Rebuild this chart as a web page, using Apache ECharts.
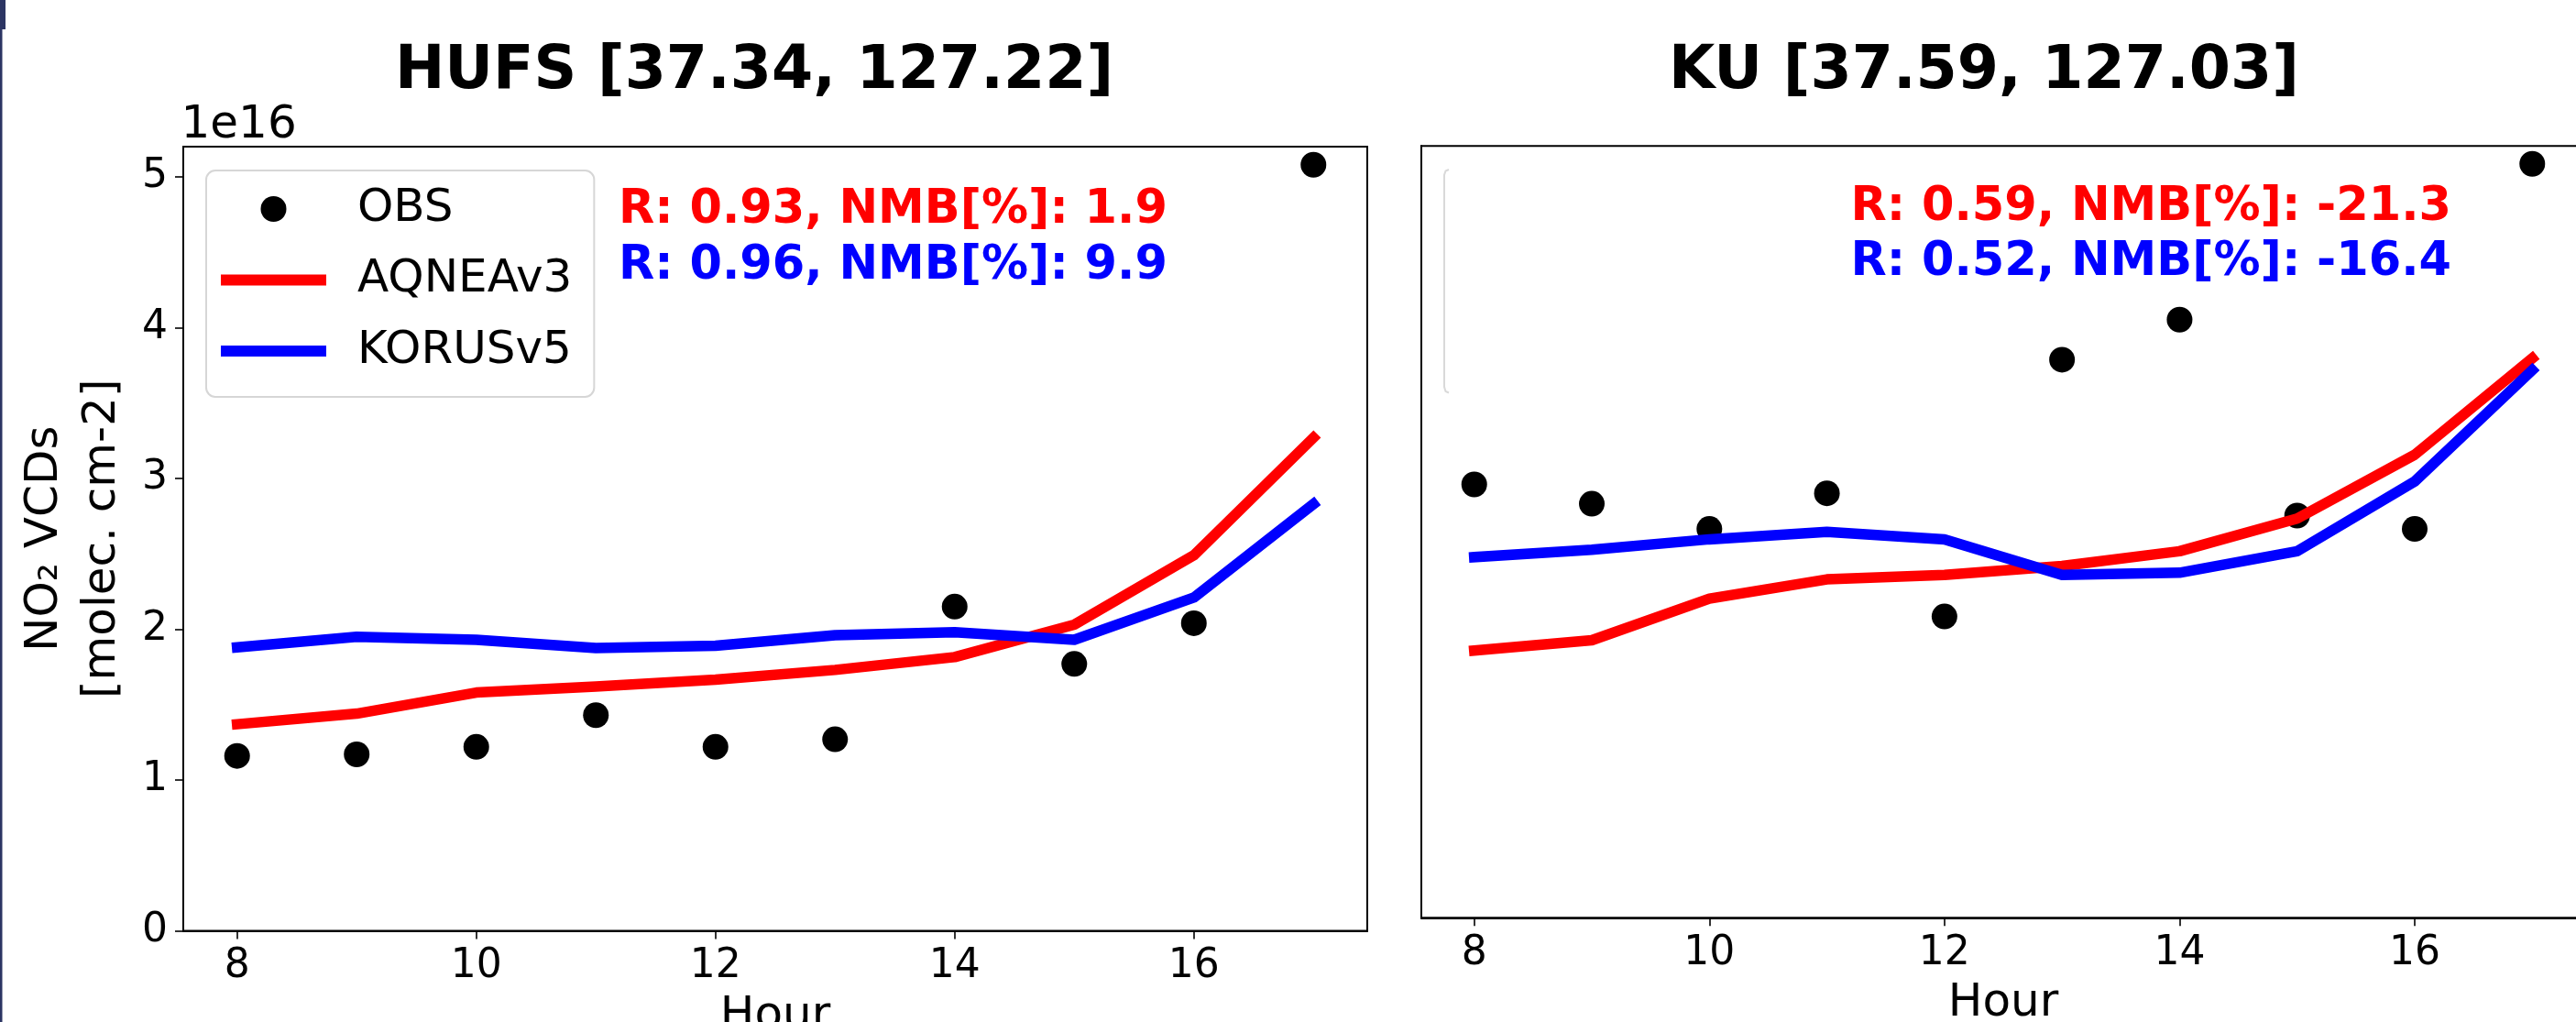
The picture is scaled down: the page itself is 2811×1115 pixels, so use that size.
<!DOCTYPE html>
<html>
<head>
<meta charset="utf-8">
<title>NO2 VCDs</title>
<script src="https://cdn.jsdelivr.net/npm/echarts@6/dist/echarts.min.js"></script>
<style>
  html, body { margin: 0; padding: 0; background: #ffffff; }
  #chart { width: 2811px; height: 1115px; }
</style>
</head>
<body>
<div id="chart"></div>
<script>
// ---------------- data (NO2 VCDs, units of 1e16 molec. cm-2) ----------------
const hours = [8, 9, 10, 11, 12, 13, 14, 15, 16, 17];

const hufsObs     = [1.16, 1.17, 1.22, 1.43, 1.22, 1.27, 2.15, 1.77, 2.04, 5.08];
const hufsAqnea   = [1.37, 1.44, 1.58, 1.62, 1.665, 1.73, 1.815, 2.03, 2.49, 3.27];
const hufsKorus   = [1.88, 1.95, 1.93, 1.875, 1.89, 1.96, 1.98, 1.93, 2.21, 2.83];

const kuObs       = [2.92, 2.79, 2.62, 2.86, 2.03, 3.76, 4.03, 2.71, 2.62, 5.08];
const kuAqnea     = [1.80, 1.87, 2.15, 2.28, 2.31, 2.37, 2.47, 2.69, 3.12, 3.77];
const kuKorus     = [2.43, 2.48, 2.55, 2.60, 2.55, 2.31, 2.325, 2.47, 2.94, 3.69];

const xTickValues = [8, 10, 12, 14, 16];
const yTickValues = [0, 1, 2, 3, 4, 5];

const panelTitles = ['HUFS [37.34, 127.22]', 'KU [37.59, 127.03]'];
const statsAqnea  = ['R: 0.93, NMB[%]: 1.9', 'R: 0.59, NMB[%]: -21.3'];
const statsKorus  = ['R: 0.96, NMB[%]: 9.9', 'R: 0.52, NMB[%]: -16.4'];
const seriesNames = ['OBS', 'AQNEAv3', 'KORUSv5'];
const yLabel = 'NO\u2082 VCDs\n[molec. cm-2]';
const xLabel = 'Hour';
const offsetLabel = '1e16';

// ---------------- styling ----------------
const FONT = 'DejaVu Sans';
const RED = '#ff0000', BLUE = '#0000ff', BLACK = '#000000';

function pairs(vals) { return hours.map((h, i) => [h, vals[i]]); }

function xAxisFor(gi) {
  return {
    type: 'value', gridIndex: gi, min: 7.55, max: 17.45,
    splitLine: { show: false },
    axisLine: { show: true, onZero: false, lineStyle: { color: BLACK, width: 2 } },
    axisTick: { show: true, length: 9, customValues: xTickValues, lineStyle: { color: BLACK, width: 1.6 } },
    axisLabel: { show: true, customValues: xTickValues, fontSize: 44, lineHeight: 44, margin: 17,
                 color: BLACK, fontFamily: FONT },
    name: xLabel, nameLocation: 'middle', nameGap: 69, nameMoveOverlap: false,
    nameTextStyle: { fontSize: 50, lineHeight: 50, color: BLACK, fontFamily: FONT }
  };
}

const lineCommon = (color) => ({
  type: 'line', showSymbol: false, symbol: 'none', animation: false,
  lineStyle: { color: color, width: 11.5, cap: 'square', join: 'round', opacity: 1 },
  itemStyle: { color: color, opacity: 1 }
});

const obsStyle = { color: BLACK, opacity: 1 };
const barIcon = 'path://M0,0H115V12H0Z';

const option = {
  animation: false,
  backgroundColor: '#ffffff',
  title: [
    { text: panelTitles[0], left: 823, top: 46.5, textAlign: 'center', padding: 0,
      textStyle: { fontSize: 65, lineHeight: 65, fontWeight: 'bold', color: BLACK, fontFamily: FONT } },
    { text: panelTitles[1], left: 2165, top: 46.5, textAlign: 'center', padding: 0,
      textStyle: { fontSize: 65, lineHeight: 65, fontWeight: 'bold', color: BLACK, fontFamily: FONT } }
  ],
  grid: [
    { left: 200, top: 160, width: 1292, height: 855.5, containLabel: false, outerBoundsMode: 'none',
      show: true, borderColor: BLACK, borderWidth: 2, backgroundColor: 'transparent' },
    { left: 1551, top: 159.3, width: 1270, height: 842, containLabel: false, outerBoundsMode: 'none',
      show: true, borderColor: BLACK, borderWidth: 2, backgroundColor: 'transparent' }
  ],
  xAxis: [xAxisFor(0), xAxisFor(1)],
  yAxis: [
    { type: 'value', gridIndex: 0, min: 0, max: 5.2,
      splitLine: { show: false },
      axisLine: { show: true, onZero: false, lineStyle: { color: BLACK, width: 2 } },
      axisTick: { show: true, length: 9, customValues: yTickValues, lineStyle: { color: BLACK, width: 1.6 } },
      axisLabel: { show: true, customValues: yTickValues, fontSize: 44, lineHeight: 44, margin: 17,
                   color: BLACK, fontFamily: FONT },
      name: yLabel, nameLocation: 'middle', nameRotate: 90, nameGap: 56.5, nameMoveOverlap: false,
      nameTextStyle: { fontSize: 50, lineHeight: 63, color: BLACK, fontFamily: FONT, align: 'center' } },
    { type: 'value', gridIndex: 1, min: 0, max: 5.2,
      splitLine: { show: false },
      axisLine: { show: true, onZero: false, lineStyle: { color: BLACK, width: 2 } },
      axisTick: { show: false },
      axisLabel: { show: false } }
  ],
  legend: {
    orient: 'vertical', left: 225, top: 186,
    padding: [17, 24, 25, 16],
    itemGap: 27.5, itemWidth: 115, itemHeight: 28,
    backgroundColor: 'rgba(255,255,255,0.8)', borderColor: '#d6d6d6', borderWidth: 2, borderRadius: 10,
    selectedMode: false,
    itemStyle: { opacity: 1 },
    textStyle: { fontSize: 50, lineHeight: 50, color: BLACK, fontFamily: FONT, padding: [0, 0, 0, 29] },
    data: [
      { name: seriesNames[0], icon: 'circle', itemStyle: { color: BLACK, opacity: 1 } },
      { name: seriesNames[1], icon: barIcon, itemStyle: { color: RED, opacity: 1 } },
      { name: seriesNames[2], icon: barIcon, itemStyle: { color: BLUE, opacity: 1 } }
    ]
  },
  series: [
    { type: 'scatter', name: seriesNames[0], xAxisIndex: 0, yAxisIndex: 0, data: pairs(hufsObs),
      symbol: 'circle', symbolSize: 28, itemStyle: obsStyle },
    Object.assign(lineCommon(RED),  { name: seriesNames[1], xAxisIndex: 0, yAxisIndex: 0, data: pairs(hufsAqnea) }),
    Object.assign(lineCommon(BLUE), { name: seriesNames[2], xAxisIndex: 0, yAxisIndex: 0, data: pairs(hufsKorus) }),
    { type: 'scatter', name: seriesNames[0], xAxisIndex: 1, yAxisIndex: 1, data: pairs(kuObs),
      symbol: 'circle', symbolSize: 28, itemStyle: obsStyle },
    Object.assign(lineCommon(RED),  { name: seriesNames[1], xAxisIndex: 1, yAxisIndex: 1, data: pairs(kuAqnea) }),
    Object.assign(lineCommon(BLUE), { name: seriesNames[2], xAxisIndex: 1, yAxisIndex: 1, data: pairs(kuKorus) })
  ],
  graphic: [
    // screenshot edge strip
    { type: 'rect', shape: { x: 0, y: 0, width: 6, height: 32 }, style: { fill: '#2c3563' }, silent: true },
    { type: 'rect', shape: { x: 0, y: 32, width: 2.5, height: 1083 }, style: { fill: '#2c3563' }, silent: true },
    // offset text
    { type: 'text', x: 197.5, y: 137, silent: true,
      style: { text: offsetLabel, fill: BLACK, font: '50px "DejaVu Sans"', align: 'left', verticalAlign: 'middle' } },
    // stats, left panel
    { type: 'text', x: 675, y: 230, silent: true, z: 10,
      style: { text: statsAqnea[0], fill: RED, font: 'bold 51px "DejaVu Sans"', align: 'left', verticalAlign: 'middle' } },
    { type: 'text', x: 675, y: 290.5, silent: true, z: 10,
      style: { text: statsKorus[0], fill: BLUE, font: 'bold 51px "DejaVu Sans"', align: 'left', verticalAlign: 'middle' } },
    // stats, right panel
    { type: 'text', x: 2019.5, y: 226.5, silent: true, z: 10,
      style: { text: statsAqnea[1], fill: RED, font: 'bold 51px "DejaVu Sans"', align: 'left', verticalAlign: 'middle' } },
    { type: 'text', x: 2019.5, y: 286.5, silent: true, z: 10,
      style: { text: statsKorus[1], fill: BLUE, font: 'bold 51px "DejaVu Sans"', align: 'left', verticalAlign: 'middle' } },
    // faint empty legend frame edge, right panel
    { type: 'polyline', silent: true,
      shape: { points: [[1581, 185], [1577.5, 186.5], [1576, 191], [1576, 422], [1577.5, 427], [1581, 428.5]] },
      style: { fill: null, stroke: '#d9d9d9', lineWidth: 2 } }
  ]
};

const chart = echarts.init(document.getElementById('chart'), null, { renderer: 'canvas', width: 2811, height: 1115 });
chart.setOption(option);
</script>
</body>
</html>
